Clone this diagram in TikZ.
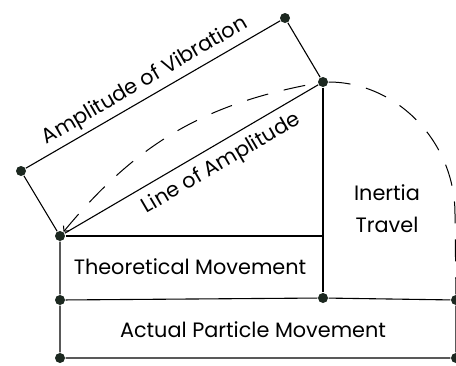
\documentclass[tikz,border=0pt]{standalone}
\usepackage{fontspec}
\setmainfont{Poppins}
\usetikzlibrary{arrows.meta}
\definecolor{dotcol}{RGB}{28,40,32}
\tikzstyle{dot}=[circle,fill=dotcol,inner sep=0pt,minimum size=10pt]
\tikzstyle{every node}=[font=\fontsize{20.8}{32}\selectfont]
\tikzstyle{dashline}=[dash pattern=on 22pt off 16pt,line width=1pt]
\begin{document}
\begin{tikzpicture}[x=1pt,y=-1pt,line width=1.1pt]
  \useasboundingbox (0,0) rectangle (456,365);
  % corner points
  \node[dot] (d) at (21,171) {};
  \node[dot] (c) at (285,18) {};
  \node[dot] (b) at (323,82) {};
  \node[dot] (a) at (60,236) {};
  \node[dot] (tl) at (60,300) {};
  \node[dot] (tm) at (323,298) {};
  \node[dot] (tr) at (456,300) {};
  \node[dot] (bl) at (60,358) {};
  \node[dot] (br) at (456,358) {};
  \coordinate (am) at (323,236);
  \coordinate (side) at (455,214);
  % vibration and amplitude
  \draw (a) -- (d) -- node[sloped,above=1pt] {Amplitude of Vibration} (c) -- (b);
  \draw (a) -- node[pos=0.58,sloped,below=5pt] {Line of Amplitude} (b);
  \draw[dashline,{Straight Barb[length=4pt]}-] (a) to[bend left=20] (b);
  \draw[dashline] (b) .. controls (396,82) and (455,141) .. (side) -- (tr);
  % movement boxes
  \draw (a) -- (am);
  \draw (b) -- (tm);
  \draw (tl) -- (tm) -- (tr) -- (br) -- (bl) -- (tl) -- (a);
  \node (theo) at (190,267) {Theoretical Movement};
  \node (actual) at (253,330) {Actual Particle Movement};
  \node[align=center] (inertia) at (387,209) {Inertia\\Travel};
\end{tikzpicture}
\end{document}
